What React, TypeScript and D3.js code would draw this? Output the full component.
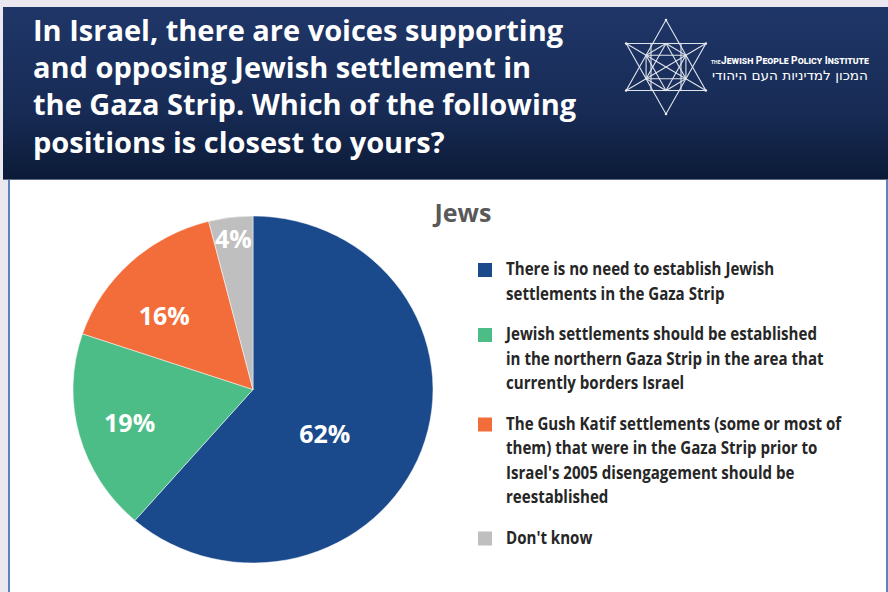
import React from "react";
import * as d3 from "d3";

const titleLines = [
  "In Israel, there are voices supporting",
  "and opposing Jewish settlement in",
  "the Gaza Strip. Which of the following",
  "positions is closest to yours?",
];
const chartTitle = "Jews";
const categories = [
  "There is no need to establish Jewish settlements in the Gaza Strip",
  "Jewish settlements should be established in the northern Gaza Strip in the area that currently borders Israel",
  "The Gush Katif settlements (some or most of them) that were in the Gaza Strip prior to Israel's 2005 disengagement should be reestablished",
  "Don't know",
];
const legendLines = [
  ["There is no need to establish Jewish", "settlements in the Gaza Strip"],
  ["Jewish settlements should be established", "in the northern Gaza Strip in the area that", "currently borders Israel"],
  ["The Gush Katif settlements (some or most of", "them) that were in the Gaza Strip prior to", "Israel's 2005 disengagement should be", "reestablished"],
  ["Don't know"],
];
const values = [62, 19, 16, 4];
const valueLabels = ["62%", "19%", "16%", "4%"];
const colors = ["#1a4a8c", "#4dbd87", "#f26d3a", "#bfbfbf"];
const labelRadiusK = [0.47, 0.71, 0.655, 0.88];
const labelAngleShiftDeg = [11.5, 0, -6, 0];

function Logo() {
  const cx = 666, cy = 67, rx = 46, ry = 47;
  const pt = (deg: number, sx = 1, sy = 1) => {
    const a = (deg * Math.PI) / 180;
    return [cx + rx * sx * Math.cos(a), cy + ry * sy * Math.sin(a)] as [number, number];
  };
  const tri = (angles: number[], s: number) => {
    const p = angles.map((a) => pt(a, s, s));
    return d3.line()([...p, p[0]]) as string;
  };
  const up = [-90, 30, 150];
  const down = [90, 210, 330];
  const hex = [-90, -30, 30, 90, 150, 210].map((a) => pt(a, 0.5, 0.5));
  const bigPts = [...up, ...down].map((a) => pt(a));
  return (
    <g stroke="#dfe3ec" strokeWidth={1.1} fill="none">
      <path d={tri(up, 1)} />
      <path d={tri(down, 1)} />
      <path d={tri(up, 0.5)} />
      <path d={tri(down, 0.5)} />
      <path d={d3.line()([...hex, hex[0]]) as string} />
      <rect x={cx - 15} y={cy - 23.5} width={30} height={47} />
      <line x1={pt(150)[0]} y1={pt(150)[1]} x2={pt(-30)[0]} y2={pt(-30)[1]} />
      <line x1={pt(30)[0]} y1={pt(30)[1]} x2={pt(210)[0]} y2={pt(210)[1]} />
      {bigPts.map((p, i) => (
        <circle key={i} cx={p[0]} cy={p[1]} r={1.3} fill="#e8ebf2" stroke="none" />
      ))}
      <text x={711} y={64} fill="#fff" stroke="none" fontFamily="Roboto, sans-serif" fontSize={5} fontWeight={700}>THE</text>
      <text x={721} y={64} fill="#fff" stroke="none" fontFamily="'Roboto', sans-serif" fontWeight={700}
        fontSize={11} style={{ fontVariant: "small-caps" }} textLength={148} lengthAdjust="spacingAndGlyphs">
        Jewish People Policy Institute
      </text>
      <text x={790} y={80} fill="#fff" stroke="none" fontFamily="'DejaVu Sans', sans-serif" fontSize={13}
        textAnchor="middle" direction="rtl" textLength={156} lengthAdjust="spacingAndGlyphs">
        המכון למדיניות העם היהודי
      </text>
    </g>
  );
}

export default function App() {
  const W = 888, H = 592;
  const cx = 253, cy = 389.5, r = 180, ry = 173.5;
  const sy = ry / r;
  const pie = d3.pie<number>().sort(null).value((d) => d);
  const arcs = pie(values);
  const arc = d3.arc<d3.PieArcDatum<number>>().innerRadius(0).outerRadius(r);

  const lh = 24.5;
  let yCursor = 275;
  const legendY = legendLines.map((lines) => {
    const y = yCursor;
    yCursor += lines.length * lh + 16;
    return y;
  });

  return (
    <svg width={W} height={H} style={{ position: "absolute", left: 0, top: 0 }}>
      <defs>
        <linearGradient id="hdr" x1="0" y1="0" x2="0" y2="1">
          <stop offset="0" stopColor="#1f3668" />
          <stop offset="0.6" stopColor="#172b55" />
          <stop offset="1" stopColor="#0b1a36" />
        </linearGradient>
      </defs>
      <rect x={0} y={0} width={W} height={H} fill="#ebe9ef" />
      <rect x={8} y={180} width={W - 8} height={H - 180} fill="#ffffff" />
      <rect x={8} y={180} width={2} height={H - 180} fill="#5c82c4" />
      <rect x={886} y={180} width={2} height={H - 180} fill="#5c82c4" />
      <rect x={3} y={7} width={W - 3} height={173} fill="url(#hdr)" />
      <rect x={3} y={179} width={W - 3} height={1} fill="#5a6a88" />

      <g fontFamily="'Open Sans', sans-serif" fontWeight={700} fontSize={29} fill="#ffffff">
        {titleLines.map((t, i) => (
          <text key={i} x={33} y={41 + i * 37.2}>{t}</text>
        ))}
      </g>
      <Logo />

      <text x={463} y={222} textAnchor="middle" fontFamily="'Open Sans', sans-serif" fontWeight={700}
        fontSize={25} fill="#595959">{chartTitle}</text>

      <g transform={`translate(${cx}, ${cy}) scale(1, ${sy})`}>
        {arcs.map((a, i) => (
          <path key={i} d={arc(a) as string} fill={colors[i]} stroke="#ffffff" strokeWidth={0.5} />
        ))}
      </g>
      {arcs.map((a, i) => {
        const k = labelRadiusK[i] * r;
        const sh = (labelAngleShiftDeg[i] * Math.PI) / 180;
        const shifted = { ...a, startAngle: a.startAngle + sh, endAngle: a.endAngle + sh };
        const c = d3.arc<d3.PieArcDatum<number>>().innerRadius(k).outerRadius(k).centroid(shifted);
        return (
          <text key={i} x={cx + c[0]} y={cy + c[1] * sy} textAnchor="middle" dominantBaseline="central"
            fontFamily="'Open Sans', sans-serif" fontWeight={700} fontSize={25} fill="#ffffff">
            {valueLabels[i]}
          </text>
        );
      })}

      <g>
        {legendLines.map((lines, i) => (
          <g key={i}>
            <title>{categories[i]}</title>
            <rect x={478} y={legendY[i] - 12} width={14} height={14} fill={colors[i]} />
            {lines.map((t, j) => (
              <text key={j} transform={`translate(506, ${legendY[i] + j * lh}) scale(0.838, 1)`}
                fontFamily="'Open Sans', sans-serif" fontWeight={700} fontSize={18} fill="#262626">{t}</text>
            ))}
          </g>
        ))}
      </g>
    </svg>
  );
}
